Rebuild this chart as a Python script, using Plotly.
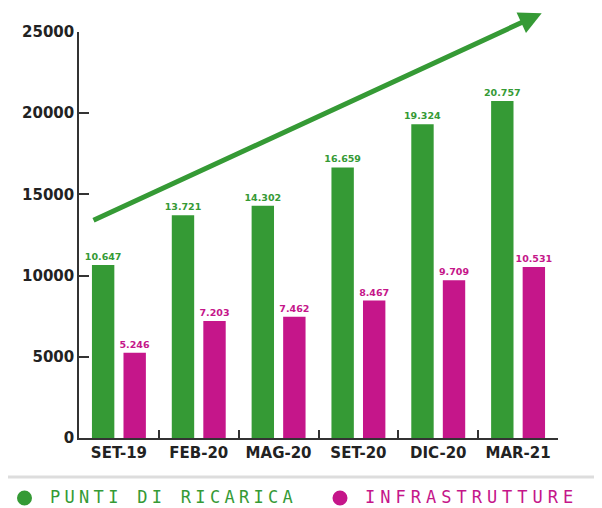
import plotly.graph_objects as go

categories = ["SET-19", "FEB-20", "MAG-20", "SET-20", "DIC-20", "MAR-21"]
punti_ricarica = [10647, 13721, 14302, 16659, 19324, 20757]
infrastrutture = [5246, 7203, 7462, 8467, 9709, 10531]
series_names = ["PUNTI DI RICARICA", "INFRASTRUTTURE"]

GREEN = "#359A35"
MAGENTA = "#C5168A"

# page body has an 8px margin; figure is sized to fit the window
OFF = 8
W, H = 602 - OFF, 508 - OFF
L, R, T, B = 79 - OFF, 44, 32 - OFF, 70
PW, PH = W - L - R, H - T - B

def px_x(px):
    return (px - OFF - L) / PW

def px_y(py):
    return (H - B - (py - OFF)) / PH

def it_fmt(v):
    return f"{v:,}".replace(",", ".")

fig = go.Figure()
for vals, name, col in [(punti_ricarica, series_names[0], GREEN),
                        (infrastrutture, series_names[1], MAGENTA)]:
    fig.add_trace(go.Bar(
        x=categories, y=vals, name=name,
        marker=dict(color=col, line=dict(width=0)),
        text=[it_fmt(v) for v in vals], textposition="outside",
        constraintext="none",
        textfont=dict(family="DejaVu Sans", size=9.5, color=col, weight="bold"),
        cliponaxis=False, showlegend=False))

# trend arrow
fig.add_annotation(
    x=px_x(541.7), y=px_y(13.3), xref="paper", yref="paper",
    ax=92 - 541.7, ay=221 - 13.3, axref="pixel", ayref="pixel",
    showarrow=True, arrowhead=2, arrowsize=0.9, arrowwidth=5,
    arrowcolor=GREEN, standoff=0, text="")

# separator line
fig.add_shape(type="line", xref="paper", yref="paper",
    x0=px_x(0), x1=px_x(602), y0=px_y(477), y1=px_y(477),
    line=dict(color="#DDDDDD", width=3))

# custom legend with circle markers
LEG_Y = 497
legend_items = [(series_names[0], GREEN, 24.5, 49, 4.3, 258),
                (series_names[1], MAGENTA, 340, 364, 5.0, 226)]
for name, col, cx, tx, ls, wbox in legend_items:
    fig.add_shape(type="circle", xref="paper", yref="paper",
        xsizemode="pixel", ysizemode="pixel",
        xanchor=px_x(cx), yanchor=px_y(LEG_Y + 1),
        x0=-7.5, x1=7.5, y0=-7.5, y1=7.5,
        fillcolor=col, line=dict(width=0))
    fig.add_annotation(x=px_x(tx), y=px_y(LEG_Y), xref="paper", yref="paper",
        xanchor="left", yanchor="middle", showarrow=False,
        width=wbox, align="left", borderpad=0,
        text=f"<span style='letter-spacing:{ls}px'>{name}</span>",
        font=dict(family="DejaVu Sans Mono", size=17, color=col))

fig.update_layout(
    width=W, height=H,
    margin=dict(l=L, r=R, t=T, b=B, autoexpand=False),
    plot_bgcolor="white", paper_bgcolor="white",
    barmode="group", bargap=0.21, bargroupgap=0.29,
    showlegend=False,
    xaxis=dict(type="category", showline=True, linecolor="#333", linewidth=1.5,
               ticks="inside", ticklen=8, tickcolor="#333", tickwidth=1.5,
               tickson="boundaries", showgrid=False,
               tickfont=dict(family="DejaVu Sans", size=15, color="#222", weight="bold")),
    yaxis=dict(range=[0, 25000], dtick=5000, tickformat="d",
               showline=True, linecolor="#333", linewidth=1.5,
               ticks="inside", ticklen=10, tickcolor="#333", tickwidth=1.5,
               showgrid=False, zeroline=False,
               tickfont=dict(family="DejaVu Sans", size=15, color="#222", weight="bold")),
)

fig.write_html("out.html")
